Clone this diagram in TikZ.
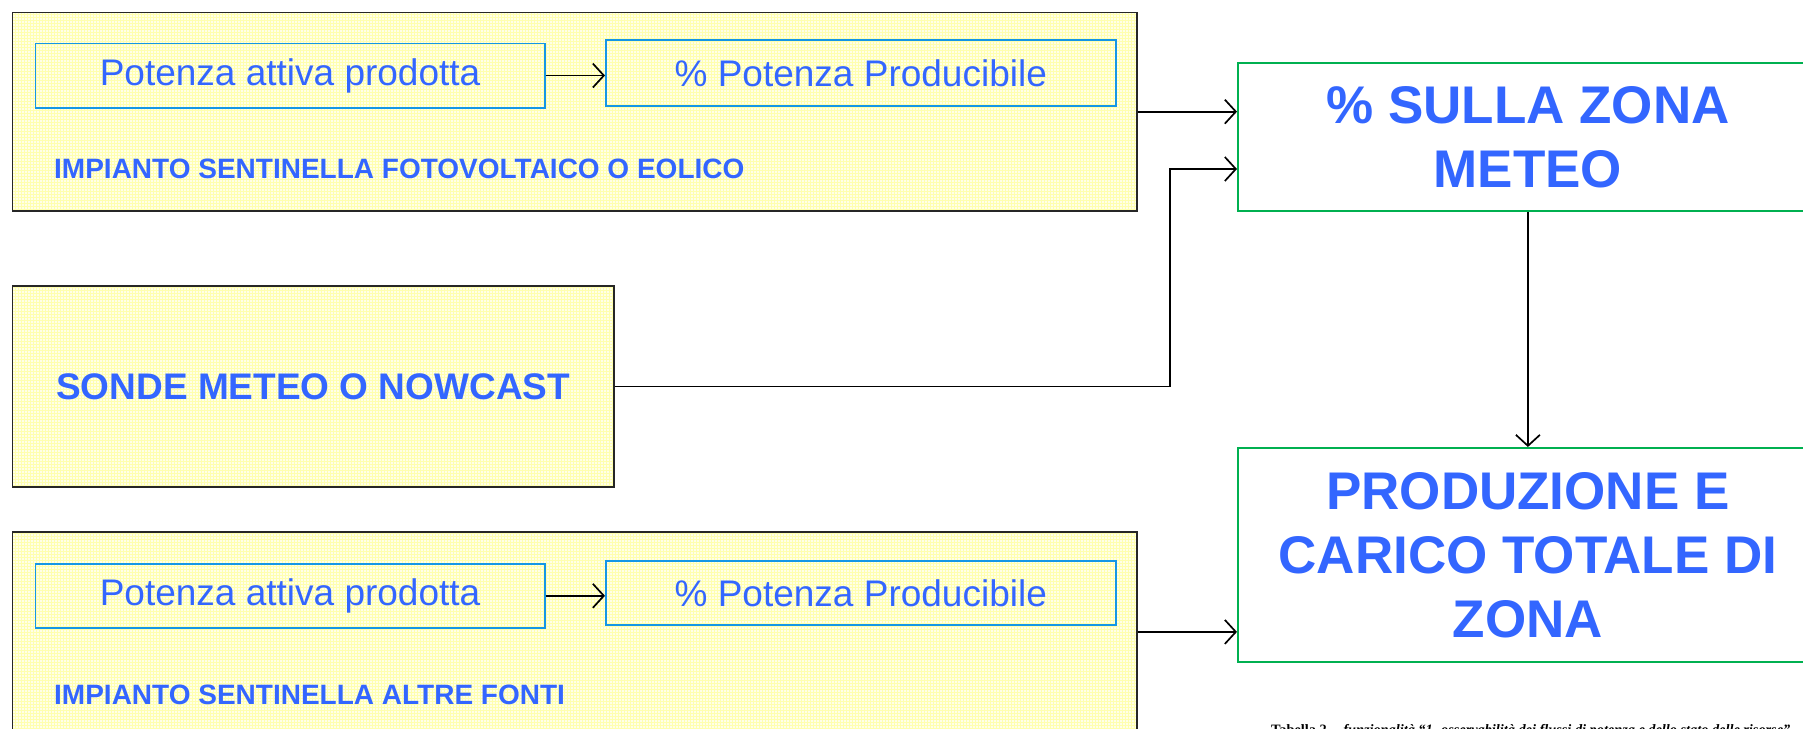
\documentclass[tikz,border=0pt]{standalone}
\usepackage{fontspec}
\setmainfont{Liberation Sans}
\newfontfamily\capfont{Liberation Serif}
\usetikzlibrary{arrows.meta,patterns}
\definecolor{txtblue}{RGB}{51,102,255}
\definecolor{boxblue}{RGB}{20,150,230}
\definecolor{boxgreen}{RGB}{0,176,80}
\definecolor{paleyellow}{RGB}{255,255,232}
\definecolor{gridyellow}{RGB}{255,255,175}
\tikzset{
  outerbox/.style={draw=black!85, line width=1.8pt, rectangle, inner sep=0pt, anchor=north west,
    preaction={fill=paleyellow}, pattern=grid, pattern color=gridyellow},
  innerbox/.style={draw=boxblue, line width=1.6pt, rectangle, inner sep=0pt, anchor=north west,
    text=txtblue, font=\fontsize{37}{44}\selectfont},
  greenbox/.style={draw=boxgreen, line width=1.8pt, rectangle, inner sep=0pt, anchor=north west,
    text=txtblue, align=center, font=\fontsize{53}{64}\selectfont\bfseries},
  lbl/.style={text=txtblue, inner sep=0pt, font=\fontsize{28}{34}\selectfont\bfseries},
  conn/.style={draw=black, line width=1.7pt, -{Straight Barb[length=11pt,width=24pt,line width=1.7pt]}},
}
\begin{document}
\begin{tikzpicture}[x=1pt,y=-1pt]
\useasboundingbox[fill=white] (0,0) rectangle (1803,728);
% outer boxes
\node[outerbox, minimum width=1124.5pt, minimum height=198.5pt] (top) at (11.5,11.5) {};
\node[outerbox, minimum width=601.5pt, minimum height=201pt, text=txtblue,
      font=\fontsize{37}{44}\selectfont\bfseries] (mid) at (11.5,285) {SONDE METEO O NOWCAST};
\node[outerbox, minimum width=1124.5pt, minimum height=200pt] (bot) at (11.5,531) {};
% inner boxes top
\node[innerbox, minimum width=509.5pt, minimum height=64.5pt] (i1) at (34.5,42.5) {Potenza attiva prodotta};
\node[innerbox, minimum width=510pt, minimum height=66pt] (i2) at (605,39) {\% Potenza Producibile};
\node[lbl, anchor=west] (l1) at (54,169) {IMPIANTO SENTINELLA FOTOVOLTAICO O EOLICO};
% inner boxes bottom
\node[innerbox, minimum width=509.5pt, minimum height=64pt] (i3) at (34.5,563) {Potenza attiva prodotta};
\node[innerbox, minimum width=510pt, minimum height=64pt] (i4) at (605,560) {\% Potenza Producibile};
\node[lbl, anchor=west] (l2) at (54,695) {IMPIANTO SENTINELLA ALTRE FONTI};
% right boxes
\node[greenbox, minimum width=580pt, minimum height=148pt] (m) at (1237,62) {\% SULLA ZONA\\METEO};
\node[greenbox, minimum width=580pt, minimum height=214pt] (p) at (1237,447) {PRODUZIONE E\\CARICO TOTALE DI\\ZONA};
% caption (cut off at bottom, as in the reference)
\node[anchor=base west, inner sep=0pt, font=\capfont\fontsize{14.3}{17}\selectfont\bfseries] (cap) at (1271,734)
  {Tabella 2 -- \itshape funzionalità “1. osservabilità dei flussi di potenza e dello stato delle risorse”};
% connectors
\coordinate (elbow) at (1170,169);
\draw[conn] (i1.east) -- (i1.east -| i2.west);
\draw[conn] (i3.east) -- (i3.east -| i4.west);
\draw[conn] (top.east) -- (top.east -| m.west);
\draw[conn] (mid.east) -| (elbow) -- (elbow -| m.west);
\draw[conn] (m.south) -- (p.north);
\draw[conn] (bot.east) -- (bot.east -| p.west);
\end{tikzpicture}
\end{document}
